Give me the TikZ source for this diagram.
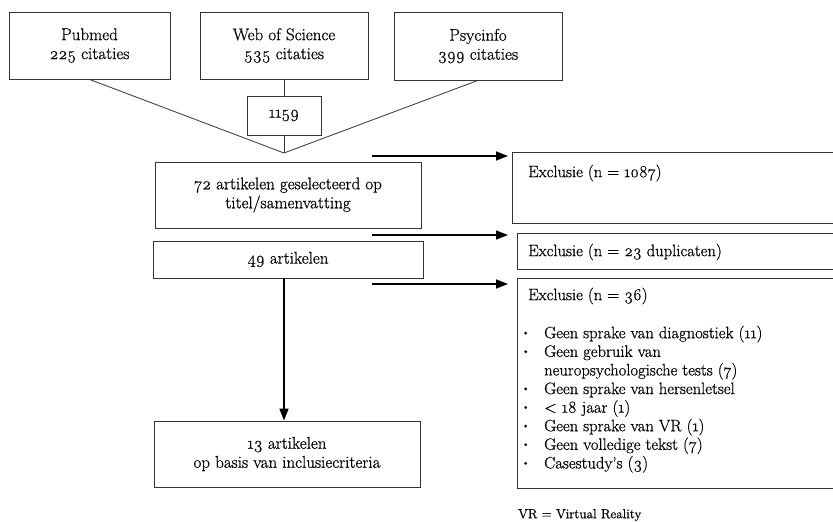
\documentclass[tikz,border=0pt]{standalone}
\usepackage{fontspec}
\setmainfont{Latin Modern Roman}[Numbers=OldStyle,FakeBold=0.6,BoldFont=*]
\usetikzlibrary{arrows.meta}
\newcommand{\mybul}[1]{\makebox[24pt][l]{\hspace*{1pt}\raisebox{1.8pt}{\scalebox{0.75}{\textbullet}}}#1}
\begin{document}
\begin{tikzpicture}[x=1pt,y=-1pt,
  box/.style={draw=black!80, line width=0.8pt, rectangle, inner sep=0pt, align=center,
    font=\fontsize{17}{19}\selectfont\bfseries},
  txt/.style={inner sep=0pt, font=\fontsize{16.6}{18.6}\selectfont\bfseries},
  link/.style={draw=black!80, line width=0.8pt},
  flow/.style={draw=black, line width=1.6pt, -{Triangle[length=12pt,width=9pt]}}]
\useasboundingbox (0,0) rectangle (833,522);
\begin{scope}
\clip (0,0) rectangle (833,522);
% source boxes
\node[box, minimum width=161, minimum height=67] (pub) at (89.5,45.5) {Pubmed\\225 citaties};
\node[box, minimum width=168, minimum height=67] (wos) at (284,45.5) {Web of Science\\535 citaties};
\node[box, minimum width=168, minimum height=68] (psy) at (478,46) {Psycinfo\\399 citaties};
\node[box, minimum width=74, minimum height=39] (tot) at (284,115.5) {1159};
\coordinate (apex) at (284,153);
\draw[link] (wos.south) -- (tot.north);
\draw[link] (tot.south) -- (apex);
\draw[link] (pub.south) -- (apex) -- (psy.south);
% main flow
\node[box, minimum width=266, minimum height=66] (sel) at (288,195) {72 artikelen geselecteerd op\\titel/samenvatting};
\node[box, minimum width=270, minimum height=37] (art) at (288,259.5) {49 artikelen};
\node[box, minimum width=266, minimum height=66] (inc) at (287,454) {13 artikelen\\op basis van inclusiecriteria};
\draw[flow] (tot.center |- art.south) -- (tot.center |- inc.north);
% exclusion boxes
\node[box, minimum width=328, minimum height=71] (ex1) at (676,187.5) {};
\node[box, minimum width=323, minimum height=36] (ex2) at (678.5,251) {};
\node[box, minimum width=323, minimum height=210] (ex3) at (678.5,383) {};
\node[txt, anchor=west] (ex1t) at (528,173) {Exclusie (n = 1087)};
\node[txt, anchor=west] (ex2t) at (528,252) {Exclusie (n = 23 duplicaten)};
\node[txt, anchor=north west, align=left] (ex3t) at (520,287.5) {\hspace*{8pt}Exclusie (n = 36)\\[19.5pt]
\mybul{Geen sprake van diagnostiek (11)}\\
\mybul{Geen gebruik van}\\
\hspace*{24pt}neuropsychologische tests (7)\\
\mybul{Geen sprake van hersenletsel}\\
\mybul{< 18 jaar (1)}\\
\mybul{Geen sprake van VR (1)}\\
\mybul{Geen volledige tekst (7)}\\
\mybul{Casestudy’s (3)}};
% exclusion arrows
\coordinate (a1s) at (372,156); \coordinate (a1e) at (508,156);
\coordinate (a2s) at (372,235); \coordinate (a2e) at (508,235);
\coordinate (a3s) at (372,284); \coordinate (a3e) at (508,284);
\draw[flow] (a1s) -- (a1e);
\draw[flow] (a2s) -- (a2e);
\draw[flow] (a3s) -- (a3e);
\node[inner sep=0pt, anchor=west, font=\fontsize{13.2}{15}\selectfont\bfseries] (note) at (518,515) {VR = Virtual Reality};
\end{scope}
\end{tikzpicture}
\end{document}
